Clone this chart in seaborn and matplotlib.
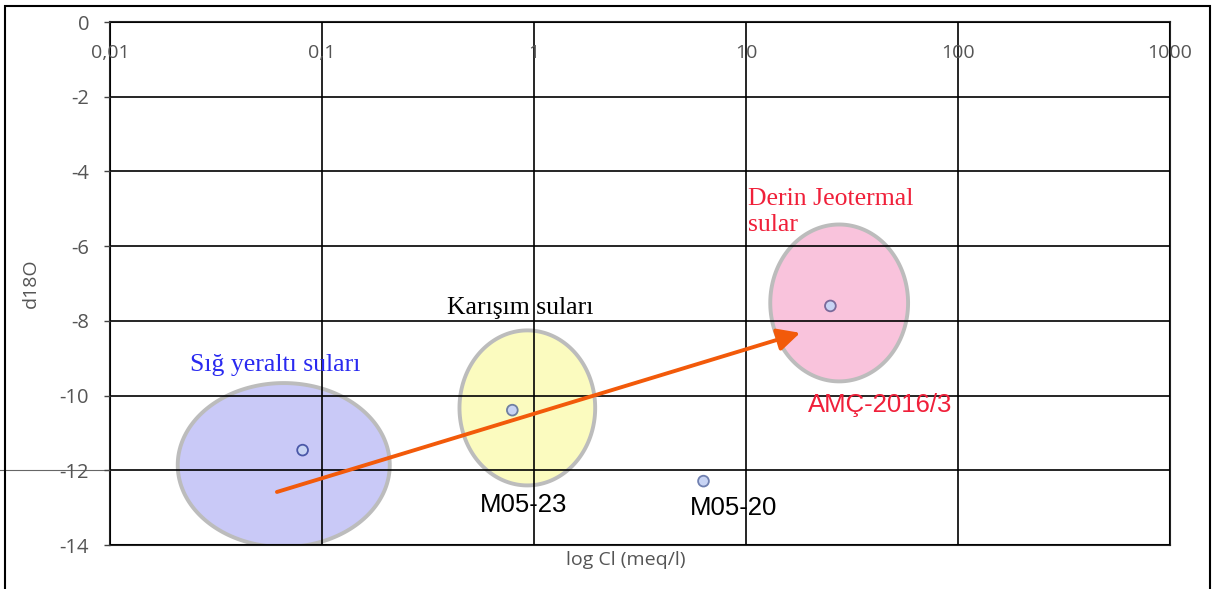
import numpy as np
import pandas as pd
import matplotlib
matplotlib.use("Agg")
import matplotlib.pyplot as plt
import seaborn as sns
from matplotlib.patches import Rectangle

# sample points (Cl in meq/l, d18O)
samples = ["Sığ", "M05-23", "M05-20", "AMÇ-2016/3"]
cl_vals = [0.081, 0.79, 6.3, 25.0]
d18o_vals = [-11.46, -10.39, -12.29, -7.60]
edge_cols = ["#4a58a8", "#7080a0", "#7080b0", "#7a6a9a"]

# groups drawn as ellipses in (log Cl, d18O) space
group_cx = [0.066, 0.93, 27.5]
group_cy = [-11.86, -10.33, -7.52]
group_wdec = [1.0, 0.64, 0.65]      # full width in decades
group_h = [4.39, 4.15, 4.2]
group_fill = ["#c9c9f7", "#fbfbbf", "#f9c3dc"]

# arrow from shallow to deep waters
arrow_start = (0.0613, -12.58)
arrow_end = (18.0, -8.32)

# annotations
label_txt = ["Sığ yeraltı suları", "Karışım suları", "Derin Jeotermal\nsular",
             "M05-23", "M05-20", "AMÇ-2016/3"]
label_x = [0.0238, 0.389, 10.2, 0.556, 5.45, 19.6]
label_y = [-9.18, -7.66, -4.44, -12.93, -13.01, -10.25]
label_col = ["#2a2af0", "black", "#f0203a", "black", "black", "#f0203a"]
label_font = ["Liberation Serif", "Liberation Serif", "Liberation Serif",
              "Liberation Sans", "Liberation Sans", "Liberation Sans"]
label_size = [18.5, 18.5, 18.5, 18.5, 18.5, 18.5]

xticks = [0.01, 0.1, 1, 10, 100, 1000]
xticklabels = ["0,01", "0,1", "1", "10", "100", "1000"]
yticks = [0, -2, -4, -6, -8, -10, -12, -14]

sns.set_style("white")
plt.rcParams["font.family"] = ["Open Sans", "DejaVu Sans"]
plt.rcParams["axes.unicode_minus"] = False

fig = plt.figure(figsize=(12.14, 5.89), dpi=100)
ax = fig.add_axes([0.0906, 0.0747, 0.8732, 0.8879])

ax.set_xscale("log")
ax.set_xlim(0.01, 1000)
ax.set_ylim(-14, 0)

# ellipses
t = np.linspace(0, 2 * np.pi, 300)
for cx, cy, wd, h, fc in zip(group_cx, group_cy, group_wdec, group_h, group_fill):
    xs = 10 ** (np.log10(cx) + wd / 2 * np.cos(t))
    ys = cy + h / 2 * np.sin(t)
    ax.fill(xs, ys, facecolor=fc, edgecolor="#bcbcbc", lw=2.8, zorder=1)

ax.grid(True, color="black", lw=1.2, zorder=2)
ax.set_axisbelow(False)

df = pd.DataFrame({"Cl": cl_vals, "d18O": d18o_vals, "name": samples})
sns.scatterplot(data=df, x="Cl", y="d18O", ax=ax, s=60, color="#c8d4f4",
                edgecolor=edge_cols, linewidth=1.3, zorder=5, legend=False)

ax.annotate("", xy=arrow_end, xytext=arrow_start,
            arrowprops=dict(arrowstyle="-|>", color="#f25a0a", lw=2.8,
                            mutation_scale=34, shrinkA=0, shrinkB=0),
            zorder=6)

for txt, x, y, c, f, fs in zip(label_txt, label_x, label_y, label_col, label_font, label_size):
    va = "top" if "\n" in txt else "center"
    ax.text(x, y, txt, color=c, fontsize=fs, family=f, ha="left", va=va,
            linespacing=1.25, zorder=7)

ax.set_xticks(xticks)
ax.set_xticklabels(xticklabels)
ax.minorticks_off()
ax.set_yticks(yticks)
ax.tick_params(axis="x", top=True, labeltop=True, bottom=False, labelbottom=False,
               length=0, pad=-29, labelsize=14, labelcolor="#555555")
ax.tick_params(axis="y", left=True, length=4, width=1, color="#444444", pad=11,
               labelsize=14.5, labelcolor="#555555")

for s in ax.spines.values():
    s.set_color("#222222")
    s.set_linewidth(1.5)

# the -12 line runs out to the left edge in the original
ax.plot([-0.11, 0], [-12, -12], transform=ax.get_yaxis_transform(),
        color="#666666", lw=0.8, clip_on=False)

ax.set_xlabel("log Cl (meq/l)", fontsize=14, color="#555555")
ax.set_ylabel("d18O", fontsize=14, color="#555555")
ax.xaxis.set_label_coords(0.487, -0.012)
ax.yaxis.set_label_coords(-0.066, 0.5)

fig.add_artist(Rectangle((0.004, -0.01), 0.9925, 1.0, transform=fig.transFigure,
                         fill=False, edgecolor="black", lw=1.5))

fig.savefig("out.png", dpi=100)
